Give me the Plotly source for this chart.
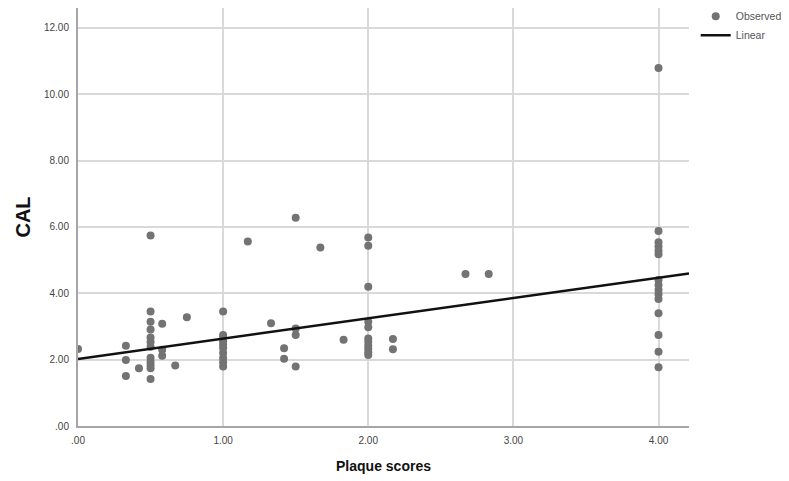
import plotly.graph_objects as go

# Observed data (Plaque scores vs CAL)
plaque = (
    [0.0]
    + [0.33] * 3
    + [0.42]
    + [0.5] * 12
    + [0.58] * 3
    + [0.67, 0.75]
    + [1.0] * 10
    + [1.17, 1.33]
    + [1.42] * 2
    + [1.5] * 4
    + [1.67, 1.83]
    + [2.0] * 11
    + [2.17] * 2
    + [2.67, 2.83]
    + [4.0] * 15
)
cal = (
    [2.32]
    + [2.42, 1.99, 1.51]
    + [1.74]
    + [5.74, 3.45, 3.14, 2.91, 2.67, 2.53, 2.39, 2.06, 1.94, 1.84, 1.74, 1.42]
    + [3.08, 2.3, 2.12]
    + [1.82, 3.28]
    + [3.45, 2.74, 2.65, 2.55, 2.45, 2.35, 2.2, 2.05, 1.92, 1.79]
    + [5.56, 3.10]
    + [2.34, 2.03]
    + [6.28, 2.94, 2.74, 1.79]
    + [5.38, 2.60]
    + [5.68, 5.43, 4.20, 3.14, 2.98, 2.64, 2.54, 2.42, 2.32, 2.22, 2.14]
    + [2.62, 2.31]
    + [4.58, 4.58]
    + [10.79, 5.88, 5.54, 5.41, 5.28, 5.18, 4.40, 4.25, 4.10, 3.97, 3.83, 3.40, 2.74, 2.24, 1.77]
)

# Linear fit
intercept = 2.02
slope = 0.613

x_range = [0, 4.21]
y_range = [0, 12.6]

x_ticks = [0, 1, 2, 3, 4]
x_tick_labels = [".00", "1.00", "2.00", "3.00", "4.00"]
y_ticks = [0, 2, 4, 6, 8, 10, 12]
y_tick_labels = [".00", "2.00", "4.00", "6.00", "8.00", "10.00", "12.00"]

line_x = x_range
line_y = [intercept + slope * v for v in line_x]

fig = go.Figure()
fig.add_trace(go.Scatter(
    x=plaque, y=cal, mode="markers", name="Observed",
    marker=dict(color="#737373", size=8, line=dict(width=0)),
))
fig.add_trace(go.Scatter(
    x=line_x, y=line_y, mode="lines", name="Linear",
    line=dict(color="#111111", width=2.5),
))

axis_font = dict(family="Liberation Sans, Arial, sans-serif", size=10, color="#444444")

fig.update_layout(
    width=789, height=481,
    margin=dict(l=78, r=100, t=8, b=55, autoexpand=False),
    paper_bgcolor="white", plot_bgcolor="white",
    font=dict(family="Liberation Sans, Arial, sans-serif"),
    legend=dict(
        x=1.011, y=1.015, xanchor="left", yanchor="top",
        font=dict(size=10.5, color="#555555"),
        bgcolor="rgba(0,0,0,0)", itemwidth=30, tracegroupgap=0,
    ),
    xaxis=dict(
        range=x_range, tickvals=x_ticks, ticktext=x_tick_labels,
        tickfont=axis_font, showgrid=True, gridcolor="#d9d9d9", gridwidth=1.5,
        showline=True, linecolor="#a6a6a6", linewidth=2, zeroline=False,
        ticks="", ticklabelstandoff=4, automargin=False,
        title=dict(text="<b>Plaque scores</b>", font=dict(size=14, color="#111111", family="Liberation Sans, Arial, sans-serif"), standoff=16),
    ),
    yaxis=dict(
        range=y_range, tickvals=y_ticks, ticktext=y_tick_labels,
        tickfont=axis_font, showgrid=True, gridcolor="#d9d9d9", gridwidth=1.5,
        showline=True, linecolor="#a6a6a6", linewidth=2, zeroline=False,
        ticks="", ticklabelstandoff=5, automargin=False,
        title=dict(text="<b>CAL</b>", font=dict(size=20, color="#111111", family="Liberation Sans, Arial, sans-serif"), standoff=8),
    ),
)

fig.write_html("out.html")
